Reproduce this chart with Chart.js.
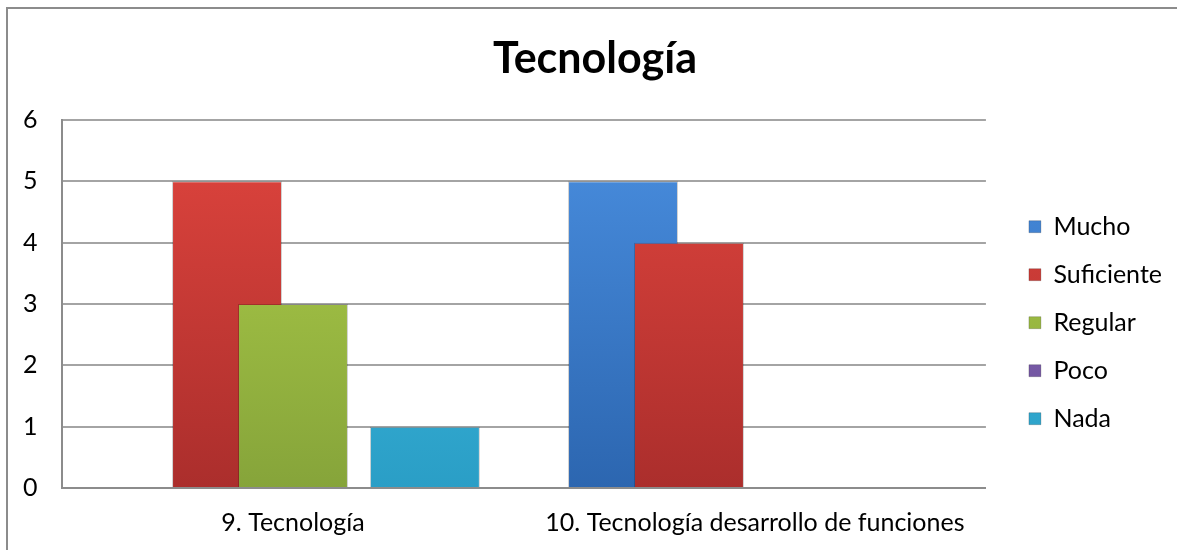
<!DOCTYPE html>
<html>
<head>
<meta charset="utf-8">
<script src="https://cdn.jsdelivr.net/npm/chart.js@4"></script>
<style>
  html, body { margin: 0; padding: 0; background: #fff; overflow: hidden; }
  #wrap { position: relative; width: 1177px; height: 550px; }
  #frame { position: absolute; left: 6px; top: 7px; width: 1400px; height: 800px;
           border-left: 2px solid #8c8c8c; border-top: 2px solid #8c8c8c; box-sizing: border-box; }
  canvas { position: absolute; left: 0; top: 0; }
</style>
</head>
<body>
<div id="wrap">
  <div id="frame"></div>
  <canvas id="c" width="1177" height="550"></canvas>
</div>
<script>
const chartTitle = 'Tecnología';
const categories = ['9. Tecnología', '10. Tecnología desarrollo de funciones'];
const seriesNames = ['Mucho', 'Suficiente', 'Regular', 'Poco', 'Nada'];
const mucho      = [0, 5];
const suficiente = [5, 4];
const regular    = [3, 0];
const poco       = [0, 0];
const nada       = [1, 0];
const yTicks     = [0, 1, 2, 3, 4, 5, 6];

const seriesValues = [mucho, suficiente, regular, poco, nada];
const seriesColors = [
  ['#4a8fe0', '#2c66b0'],
  ['#e0453e', '#ab2e2c'],
  ['#b0d04a', '#86a43a'],
  ['#9272c2', '#684c96'],
  ['#45c3e6', '#2a9ec6']
];

function grad(top, bottom) {
  return (ctx) => {
    const chart = ctx.chart;
    const area = chart.chartArea;
    if (!area) return bottom;
    const g = chart.ctx.createLinearGradient(0, area.top, 0, area.bottom);
    g.addColorStop(0, top);
    g.addColorStop(1, bottom);
    return g;
  };
}

const datasets = seriesNames.map((name, i) => ({
  label: name,
  data: seriesValues[i],
  backgroundColor: grad(seriesColors[i][0], seriesColors[i][1]),
  borderColor: 'rgba(0,0,0,0.18)',
  borderWidth: 1,
  categoryPercentage: 0.714,
  barPercentage: 1.667
}));

// draw datasets in index order so later series sit on top (like the original)
const drawOrder = {
  id: 'drawOrder',
  beforeDatasetsDraw(chart) {
    const metas = chart.getSortedVisibleDatasetMetas().slice().sort((a, b) => a.index - b.index);
    metas.forEach(m => m.controller.draw());
    return false;
  }
};

const FONT = 'Lato, "Open Sans", sans-serif';

new Chart(document.getElementById('c'), {
  type: 'bar',
  data: { labels: categories, datasets },
  plugins: [drawOrder],
  options: {
    responsive: false,
    animation: false,
    layout: { padding: { left: 18, right: 5, top: 0, bottom: -8 } },
    plugins: {
      title: {
        display: true,
        text: chartTitle,
        color: '#000',
        font: { family: FONT, size: 43, weight: 'bold' },
        padding: { top: 33.6, bottom: 34.8 }
      },
      legend: {
        position: 'right',
        align: 'center',
        title: { display: true, text: ' ', font: { family: FONT, size: 10 }, padding: { top: 75.4, bottom: 0 } },
        labels: {
          color: '#000',
          font: { family: FONT, size: 25 },
          boxWidth: 12,
          boxHeight: 12,
          padding: 23
        }
      },
      tooltip: { enabled: false }
    },
    scales: {
      x: {
        grid: { display: false, drawTicks: false },
        border: { display: true, color: '#8c8c8c', width: 2 },
        ticks: { color: '#000', font: { family: FONT, size: 25 }, padding: 20 }
      },
      y: {
        min: 0,
        max: 6,
        afterBuildTicks: (scale) => { scale.ticks = yTicks.map(v => ({ value: v })); },
        afterFit: (scale) => { scale.width = 44; },
        grid: { color: '#a4a4a4', lineWidth: 2, drawTicks: false },
        border: { display: true, color: '#8c8c8c', width: 2 },
        ticks: { color: '#000', font: { family: FONT, size: 25 }, padding: 24.5 }
      },
      gap: {
        position: 'right',
        display: true,
        grid: { display: false },
        border: { display: false },
        ticks: { display: false },
        afterFit: (scale) => { scale.width = 20; }
      }
    }
  }
});
</script>
</body>
</html>
